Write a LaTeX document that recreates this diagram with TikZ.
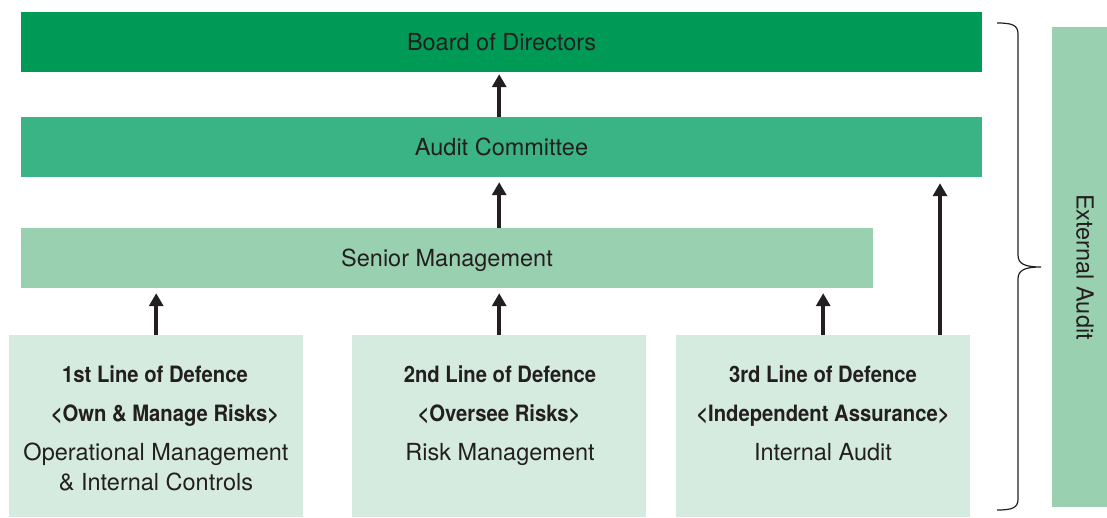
\documentclass[tikz,border=0pt]{standalone}
\usepackage{fontspec}
\setmainfont{TeX Gyre Heros}
\newfontfamily\condfont[FakeStretch=0.9]{TeX Gyre Heros}
\usetikzlibrary{arrows.meta,positioning}

\definecolor{boardgreen}{RGB}{0,154,87}
\definecolor{auditgreen}{RGB}{59,180,133}
\definecolor{seniorgreen}{RGB}{153,209,176}
\definecolor{linegreen}{RGB}{213,235,223}
\definecolor{inkgray}{RGB}{35,31,32}

\begin{document}
\begin{tikzpicture}[
    x=1pt, y=-1pt, % one unit per pixel, y runs down
    band/.style={
      rectangle,
      minimum height=60pt,
      inner sep=0pt,
      text height=17pt,
      text depth=0pt,
      text=inkgray,
      font=\fontsize{23.5}{28}\selectfont
    },
    linebox/.style={
      rectangle,
      minimum width=294pt,
      minimum height=182pt,
      inner sep=0pt,
      anchor=north west,
      fill=linegreen
    },
    linetitle/.style={
      anchor=base,
      inner sep=0pt,
      text=inkgray,
      font=\condfont\bfseries\fontsize{22.5}{27}\selectfont
    },
    linetext/.style={
      anchor=base,
      inner sep=0pt,
      text=inkgray,
      font=\fontsize{23.5}{28}\selectfont
    },
    uparrow/.style={
      draw=inkgray,
      line width=3.6pt,
      -{Triangle[width=14pt,length=13pt]}
    },
  ]
    \useasboundingbox (0,0) rectangle (1107,517);

    % Governing bodies
    \node[band, minimum width=961pt, fill=boardgreen] (board) at (501.5,42) {Board of Directors};
    \node[band, minimum width=961pt, fill=auditgreen] (audit) at (501.5,147) {Audit Committee};
    \node[band, minimum width=852pt, fill=seniorgreen] (senior) at (447,258) {Senior Management};

    % Three lines of defence
    \node[linebox] (line1) at (9,335) {};
    \node[linebox] (line2) at (352,335) {};
    \node[linebox] (line3) at (676,335) {};

    \node[linetitle] (title1) at (155,382) {1st Line of Defence};
    \node[linetitle] (role1) at (165,421) {<Own \& Manage Risks>};
    \node[linetext] (unit1) at (156,460) {Operational Management};
    \node[linetext] (unit1b) at (156,490) {\& Internal Controls};

    \node[linetitle] (title2) at (500,382) {2nd Line of Defence};
    \node[linetitle] (role2) at (499,421) {<Oversee Risks>};
    \node[linetext] (unit2) at (500,460) {Risk Management};

    \node[linetitle] (title3) at (823,382) {3rd Line of Defence};
    \node[linetitle] (role3) at (823,421) {<Independent Assurance>};
    \node[linetext] (unit3) at (823,460) {Internal Audit};

    % Reporting arrows
    \coordinate (direct) at (940,335);
    \draw[uparrow, shorten >=5pt] (line1.north) -- (line1.north |- senior.south);
    \draw[uparrow, shorten >=5pt] (line2.north) -- (line2.north |- senior.south);
    \draw[uparrow, shorten >=5pt] (line3.north) -- (line3.north |- senior.south);
    \draw[uparrow, shorten >=6pt] (direct) -- (direct |- audit.south);
    \draw[uparrow, shorten >=5pt] (line2.north |- senior.north) -- (line2.north |- audit.south);
    \draw[uparrow, shorten >=2pt] (line2.north |- audit.north) -- (line2.north |- board.south);

    % External audit with its brace
    \node[rectangle, inner sep=0pt, anchor=north west, minimum width=55pt,
      minimum height=480pt, fill=seniorgreen] (external) at (1052,27) {};
    \node[band, minimum height=0pt, rotate=-90] (externallabel) at (1085,267) {External Audit};
    \draw[inkgray, line width=1.2pt]
      (997,23) .. controls (1012,23) and (1018,25) .. (1018,34)
      -- (1018,255) .. controls (1018,264) and (1025,267) .. (1041,267)
      .. controls (1025,267) and (1018,270) .. (1018,279)
      -- (1018,499) .. controls (1018,508) and (1012,510) .. (997,510);
  \end{tikzpicture}
\end{document}
